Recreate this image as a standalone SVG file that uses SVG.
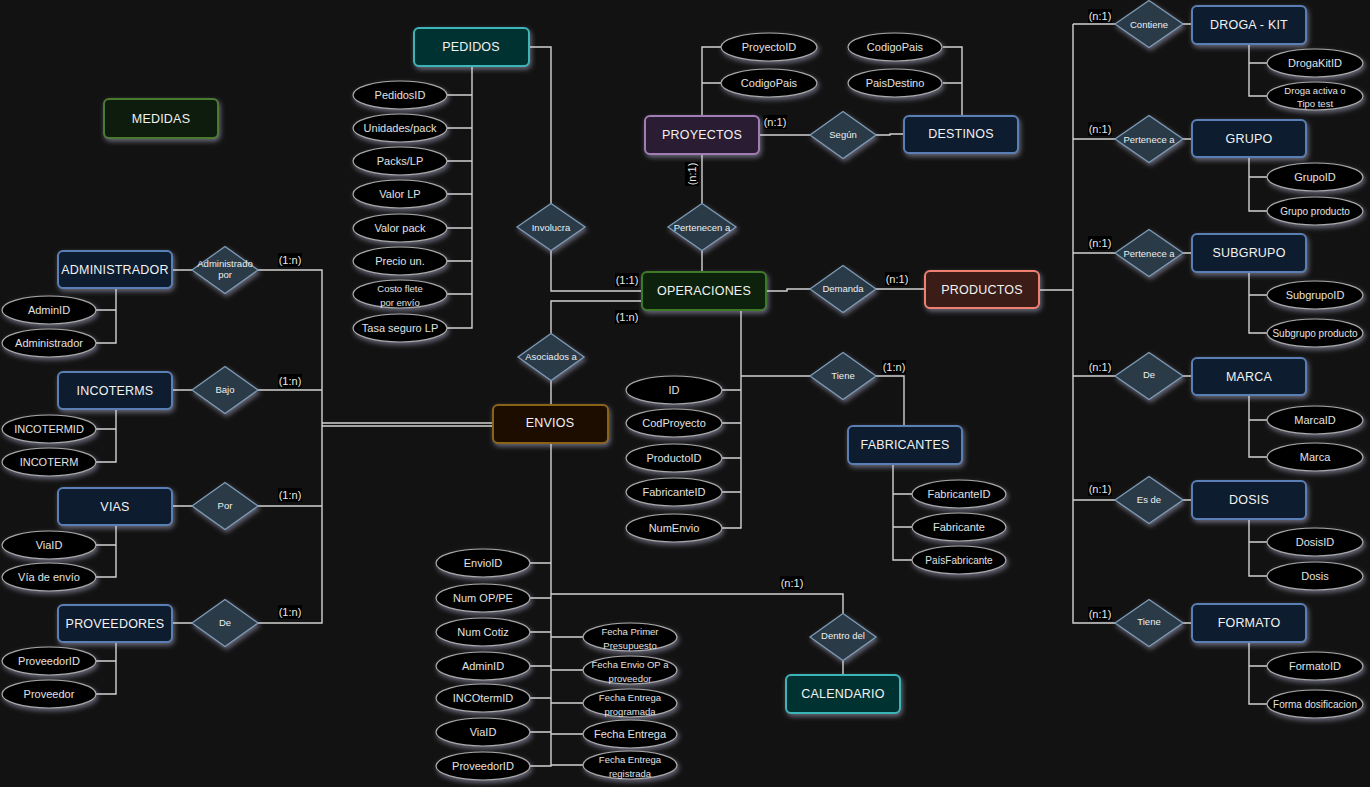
<svg xmlns="http://www.w3.org/2000/svg" width="1370" height="787" viewBox="0 0 1370 787">
<defs>
<filter id="glow" x="-30%" y="-40%" width="160%" height="190%">
<feDropShadow dx="1.5" dy="2.5" stdDeviation="2.5" flood-color="#cfcff5" flood-opacity="0.45"/>
</filter>
<style>
text{font-family:"Liberation Sans",Arial,sans-serif;text-anchor:middle;dominant-baseline:central}
.ent rect{rx:5;ry:5;stroke-width:2;filter:url(#glow)}
.ent text{font-size:12.5px;fill:#f2f2f2;letter-spacing:0.2px}
.blue rect{fill:#0b1a2e;stroke:#5a7fb5}
.green rect{fill:#0f1f0e;stroke:#4a7a2e}
.dgreen rect{fill:#0f200f;stroke:#3d7a25}
.teal rect{fill:#053032;stroke:#3ab5b8}
.purple rect{fill:#2a1a30;stroke:#a27db5}
.red rect{fill:#3a1a16;stroke:#f08070}
.brown rect{fill:#1e0f02;stroke:#8a6416}
.rel polygon{fill:#2c3a47;stroke:#7c9cb8;stroke-width:1.3;filter:url(#glow)}
.rel text{font-size:9.5px;fill:#eeeeee}
.attr ellipse{fill:#050505;stroke:#aaaaaa;stroke-width:1.2;filter:url(#glow)}
.attr text{font-size:11px;fill:#e2e2e2}
.attr text.s{font-size:9.5px}
.attr text.m{font-size:10px}
#connectors path{fill:none;stroke:#d2d2d2;stroke-width:1.4}
.card rect{fill:#000}
.card text{font-size:11px;fill:#e8e8e8}
</style>
</defs>
<rect width="1370" height="787" fill="#121212"/>

<g id="connectors">
<path d="M172,270 H192 M258,270 H322 V623 H258 M258,390 H322 M258,506 H322 M322,423 H493 M322,426 H493"/>
<path d="M172,390 H192 M172,506 H192 M172,623 H192"/>
<path d="M116,288 V343 H96 M96,310 H116 M116,409 V462 H96 M96,429 H116 M116,525 V577 H96 M96,545 H116 M116,642 V694 H96 M96,661 H116"/>
<path d="M472,66 V328 H447 M447,95 H472 M447,128 H472 M447,161 H472 M447,194 H472 M447,228 H472 M447,261 H472 M447,294 H472"/>
<path d="M529,47 H551 V203.5 M551,250.5 V291 H642 M642,301 H551 V333.5 M551,380.5 V405"/>
<path d="M702,116 V47 H721 M721,83 H702 M702,154 V203.5 M702,250.5 V272 M759,135 H810 M876,135 H890 V134 H904"/>
<path d="M943,47 H962 V116 M943,83 H962"/>
<path d="M766,291 H787 V289 H810 M876,289 H925 M741,310 V528 H722 M722,390 H741 M722,423 H741 M722,458 H741 M722,492 H741 M741,376 H810 M876,376 H904 V426"/>
<path d="M893,464 V560 H912 M912,494 H893 M912,527 H893"/>
<path d="M1039,290 H1073 M1073,24 V623 H1116 M1073,24 H1116 M1073,139 H1116 M1073,253 H1116 M1073,376 H1116 M1073,500 H1116"/>
<path d="M1182,24 H1192 M1182,139 H1192 M1182,253 H1192 M1182,376 H1192 M1182,500 H1192 M1182,623 H1192"/>
<path d="M1249,44 V96 H1267 M1249,63 H1267 M1249,157 V211 H1267 M1249,177 H1267 M1249,272 V333 H1267 M1249,295 H1267 M1249,395 V457 H1267 M1249,420 H1267 M1249,519 V576 H1267 M1249,542 H1267 M1249,642 V704 H1267 M1249,666 H1267"/>
<path d="M551,443 V766 H530 M530,563 H551 M530,598 H551 M530,632 H551 M530,666 H551 M530,698 H551 M530,732 H551 M551,637 H583 M551,670 H583 M551,703 H583 M551,734 H583 M551,765 H583"/>
<path d="M551,594 H843 V613.5 M843,660.5 V675"/>
</g>

<g id="labels">
<g class="card"><rect x="278" y="253" width="24" height="14"/><text x="290" y="260">(1:n)</text></g>
<g class="card"><rect x="278" y="374" width="24" height="14"/><text x="290" y="381">(1:n)</text></g>
<g class="card"><rect x="278" y="488" width="24" height="14"/><text x="290" y="495">(1:n)</text></g>
<g class="card"><rect x="278" y="605" width="24" height="14"/><text x="290" y="612">(1:n)</text></g>
<g class="card"><rect x="615" y="273" width="24" height="14"/><text x="627" y="280">(1:1)</text></g>
<g class="card"><rect x="615" y="310" width="24" height="14"/><text x="627" y="317">(1:n)</text></g>
<g class="card"><rect x="763" y="115" width="24" height="14"/><text x="775" y="122">(n:1)</text></g>
<g class="card" transform="translate(692,174) rotate(-90)"><rect x="-12" y="-7" width="24" height="14"/><text x="0" y="0">(n:1)</text></g>
<g class="card"><rect x="885" y="272" width="24" height="14"/><text x="897" y="279">(n:1)</text></g>
<g class="card"><rect x="882" y="360" width="24" height="14"/><text x="894" y="367">(1:n)</text></g>
<g class="card"><rect x="780" y="576" width="24" height="14"/><text x="792" y="583">(n:1)</text></g>
<g class="card"><rect x="1088" y="9" width="24" height="14"/><text x="1100" y="16">(n:1)</text></g>
<g class="card"><rect x="1088" y="122" width="24" height="14"/><text x="1100" y="129">(n:1)</text></g>
<g class="card"><rect x="1088" y="236" width="24" height="14"/><text x="1100" y="243">(n:1)</text></g>
<g class="card"><rect x="1088" y="360" width="24" height="14"/><text x="1100" y="367">(n:1)</text></g>
<g class="card"><rect x="1088" y="482" width="24" height="14"/><text x="1100" y="489">(n:1)</text></g>
<g class="card"><rect x="1088" y="607" width="24" height="14"/><text x="1100" y="614">(n:1)</text></g>
</g>

<g id="medidas" class="ent green"><rect x="104" y="99" width="114" height="39"/><text x="161" y="119">MEDIDAS</text></g>
<g id="administrador" class="ent blue"><rect x="58" y="251" width="114" height="37"/><text x="115" y="270">ADMINISTRADOR</text></g>
<g id="incoterms" class="ent blue"><rect x="58" y="372" width="114" height="37"/><text x="115" y="391">INCOTERMS</text></g>
<g id="vias" class="ent blue"><rect x="58" y="488" width="114" height="37"/><text x="115" y="507">VIAS</text></g>
<g id="proveedores" class="ent blue"><rect x="58" y="605" width="114" height="37"/><text x="115" y="624">PROVEEDORES</text></g>
<g id="pedidos" class="ent teal"><rect x="414" y="28" width="115" height="38"/><text x="471" y="47">PEDIDOS</text></g>
<g id="proyectos" class="ent purple"><rect x="645" y="116" width="114" height="38"/><text x="702" y="135">PROYECTOS</text></g>
<g id="destinos" class="ent blue"><rect x="904" y="116" width="114" height="37"/><text x="961" y="134">DESTINOS</text></g>
<g id="operaciones" class="ent dgreen"><rect x="642" y="272" width="124" height="38"/><text x="704" y="291">OPERACIONES</text></g>
<g id="productos" class="ent red"><rect x="925" y="271" width="114" height="37"/><text x="982" y="290">PRODUCTOS</text></g>
<g id="envios" class="ent brown"><rect x="493" y="405" width="115" height="38"/><text x="550" y="423">ENVIOS</text></g>
<g id="fabricantes" class="ent blue"><rect x="848" y="426" width="114" height="38"/><text x="905" y="445">FABRICANTES</text></g>
<g id="calendario" class="ent teal"><rect x="786" y="675" width="114" height="38"/><text x="843" y="694">CALENDARIO</text></g>
<g id="droga-kit" class="ent blue"><rect x="1192" y="6" width="114" height="38"/><text x="1249" y="25">DROGA - KIT</text></g>
<g id="grupo" class="ent blue"><rect x="1192" y="120" width="114" height="37"/><text x="1249" y="139">GRUPO</text></g>
<g id="subgrupo" class="ent blue"><rect x="1192" y="234" width="114" height="38"/><text x="1249" y="253">SUBGRUPO</text></g>
<g id="marca" class="ent blue"><rect x="1192" y="358" width="114" height="37"/><text x="1249" y="377">MARCA</text></g>
<g id="dosis" class="ent blue"><rect x="1192" y="481" width="114" height="38"/><text x="1249" y="500">DOSIS</text></g>
<g id="formato" class="ent blue"><rect x="1192" y="604" width="114" height="38"/><text x="1249" y="623">FORMATO</text></g>

<g id="rel-administrado" class="rel" transform="translate(225,270)"><polygon points="-33,0 0,-23.5 33,0 0,23.5"/><text y="-7">Administrado</text><text y="4">por</text></g>
<g id="rel-bajo" class="rel" transform="translate(225,390)"><polygon points="-33,0 0,-23.5 33,0 0,23.5"/><text y="-1">Bajo</text></g>
<g id="rel-por" class="rel" transform="translate(225,506)"><polygon points="-33,0 0,-23.5 33,0 0,23.5"/><text y="-1">Por</text></g>
<g id="rel-de-prov" class="rel" transform="translate(225,623)"><polygon points="-33,0 0,-23.5 33,0 0,23.5"/><text y="-1">De</text></g>
<g id="rel-involucra" class="rel" transform="translate(551,227)"><polygon points="-34,0 0,-23.5 34,0 0,23.5"/><text>Involucra</text></g>
<g id="rel-asociados" class="rel" transform="translate(551,357)"><polygon points="-33,0 0,-23.5 33,0 0,23.5"/><text y="-1">Asociados a</text></g>
<g id="rel-pertenecen" class="rel" transform="translate(702,227)"><polygon points="-34,0 0,-23.5 34,0 0,23.5"/><text>Pertenecen a</text></g>
<g id="rel-segun" class="rel" transform="translate(843,135)"><polygon points="-33,0 0,-23.5 33,0 0,23.5"/><text y="-1">Según</text></g>
<g id="rel-demanda" class="rel" transform="translate(843,289)"><polygon points="-33,0 0,-23.5 33,0 0,23.5"/><text y="-1">Demanda</text></g>
<g id="rel-tiene-fab" class="rel" transform="translate(843,376)"><polygon points="-33,0 0,-23.5 33,0 0,23.5"/><text y="-1">Tiene</text></g>
<g id="rel-dentro" class="rel" transform="translate(843,637)"><polygon points="-33,0 0,-23.5 33,0 0,23.5"/><text y="-2">Dentro del</text></g>
<g id="rel-contiene" class="rel" transform="translate(1149,24)"><polygon points="-34,0 0,-23.5 34,0 0,23.5"/><text y="0">Contiene</text></g>
<g id="rel-pertenece-grupo" class="rel" transform="translate(1149,139)"><polygon points="-34,0 0,-23.5 34,0 0,23.5"/><text>Pertenece a</text></g>
<g id="rel-pertenece-subgrupo" class="rel" transform="translate(1149,253)"><polygon points="-34,0 0,-23.5 34,0 0,23.5"/><text>Pertenece a</text></g>
<g id="rel-de-marca" class="rel" transform="translate(1149,376)"><polygon points="-34,0 0,-23.5 34,0 0,23.5"/><text y="-2">De</text></g>
<g id="rel-esde" class="rel" transform="translate(1149,500)"><polygon points="-34,0 0,-23.5 34,0 0,23.5"/><text y="-1">Es de</text></g>
<g id="rel-tiene-formato" class="rel" transform="translate(1149,623)"><polygon points="-34,0 0,-23.5 34,0 0,23.5"/><text y="-2">Tiene</text></g>

<g id="attr-adminid" class="attr"><ellipse cx="49" cy="310" rx="47" ry="14"/><text x="49" y="310">AdminID</text></g>
<g id="attr-administrador" class="attr"><ellipse cx="49" cy="343" rx="47" ry="14"/><text x="49" y="343">Administrador</text></g>
<g id="attr-incotermid" class="attr"><ellipse cx="49" cy="429" rx="47" ry="14"/><text x="49" y="429">INCOTERMID</text></g>
<g id="attr-incoterm" class="attr"><ellipse cx="49" cy="462" rx="47" ry="14"/><text x="49" y="462">INCOTERM</text></g>
<g id="attr-viaid" class="attr"><ellipse cx="49" cy="545" rx="47" ry="14"/><text x="49" y="545">ViaID</text></g>
<g id="attr-viaenvio" class="attr"><ellipse cx="49" cy="577" rx="47" ry="14"/><text x="49" y="577">Vía de envío</text></g>
<g id="attr-proveedorid" class="attr"><ellipse cx="49" cy="661" rx="47" ry="14"/><text x="49" y="661">ProveedorID</text></g>
<g id="attr-proveedor" class="attr"><ellipse cx="49" cy="694" rx="47" ry="14"/><text x="49" y="694">Proveedor</text></g>

<g id="attr-pedidosid" class="attr"><ellipse cx="400" cy="95" rx="47" ry="14"/><text x="400" y="95">PedidosID</text></g>
<g id="attr-unidades" class="attr"><ellipse cx="400" cy="128" rx="47" ry="14"/><text x="400" y="128">Unidades/pack</text></g>
<g id="attr-packs" class="attr"><ellipse cx="400" cy="161" rx="47" ry="14"/><text x="400" y="161">Packs/LP</text></g>
<g id="attr-valorlp" class="attr"><ellipse cx="400" cy="194" rx="47" ry="14"/><text x="400" y="194">Valor LP</text></g>
<g id="attr-valorpack" class="attr"><ellipse cx="400" cy="228" rx="47" ry="14"/><text x="400" y="228">Valor pack</text></g>
<g id="attr-precio" class="attr"><ellipse cx="400" cy="261" rx="47" ry="14"/><text x="400" y="261">Precio un.</text></g>
<g id="attr-costo" class="attr"><ellipse cx="400" cy="294" rx="47" ry="14"/><text class="s" x="400" y="288">Costo flete</text><text class="s" x="400" y="302">por envío</text></g>
<g id="attr-tasa" class="attr"><ellipse cx="400" cy="328" rx="47" ry="14"/><text x="400" y="328">Tasa seguro LP</text></g>

<g id="attr-proyectoid" class="attr"><ellipse cx="769" cy="47" rx="48" ry="14"/><text x="769" y="47">ProyectoID</text></g>
<g id="attr-codigopais-p" class="attr"><ellipse cx="769" cy="83" rx="48" ry="14"/><text x="769" y="83">CodigoPais</text></g>
<g id="attr-codigopais-d" class="attr"><ellipse cx="895" cy="47" rx="47" ry="14"/><text x="895" y="47">CodigoPais</text></g>
<g id="attr-paisdestino" class="attr"><ellipse cx="895" cy="83" rx="47" ry="14"/><text x="895" y="83">PaisDestino</text></g>

<g id="attr-id" class="attr"><ellipse cx="674" cy="390" rx="48" ry="14"/><text x="674" y="390">ID</text></g>
<g id="attr-codproyecto" class="attr"><ellipse cx="674" cy="423" rx="48" ry="14"/><text x="674" y="423">CodProyecto</text></g>
<g id="attr-productoid" class="attr"><ellipse cx="674" cy="458" rx="48" ry="14"/><text x="674" y="458">ProductoID</text></g>
<g id="attr-fabricanteid-op" class="attr"><ellipse cx="674" cy="492" rx="48" ry="14"/><text x="674" y="492">FabricanteID</text></g>
<g id="attr-numenvio" class="attr"><ellipse cx="674" cy="528" rx="48" ry="14"/><text x="674" y="528">NumEnvio</text></g>

<g id="attr-fabricanteid" class="attr"><ellipse cx="959" cy="494" rx="47" ry="14"/><text x="959" y="494">FabricanteID</text></g>
<g id="attr-fabricante" class="attr"><ellipse cx="959" cy="527" rx="47" ry="14"/><text x="959" y="527">Fabricante</text></g>
<g id="attr-paisfabricante" class="attr"><ellipse cx="959" cy="560" rx="47" ry="14"/><text class="m" x="959" y="560">PaísFabricante</text></g>

<g id="attr-drogakitid" class="attr"><ellipse cx="1315" cy="63" rx="48" ry="14"/><text x="1315" y="63">DrogaKitID</text></g>
<g id="attr-drogaactiva" class="attr"><ellipse cx="1315" cy="96" rx="48" ry="14"/><text class="s" x="1315" y="90">Droga activa o</text><text class="s" x="1315" y="103">Tipo test</text></g>
<g id="attr-grupoid" class="attr"><ellipse cx="1315" cy="177" rx="48" ry="14"/><text x="1315" y="177">GrupoID</text></g>
<g id="attr-grupoproducto" class="attr"><ellipse cx="1315" cy="211" rx="48" ry="14"/><text class="m" x="1315" y="211">Grupo producto</text></g>
<g id="attr-subgrupoid" class="attr"><ellipse cx="1315" cy="295" rx="48" ry="14"/><text x="1315" y="295">SubgrupoID</text></g>
<g id="attr-subgrupoproducto" class="attr"><ellipse cx="1315" cy="333" rx="48" ry="14"/><text class="m" x="1315" y="333">Subgrupo producto</text></g>
<g id="attr-marcaid" class="attr"><ellipse cx="1315" cy="420" rx="48" ry="14"/><text x="1315" y="420">MarcaID</text></g>
<g id="attr-marca" class="attr"><ellipse cx="1315" cy="457" rx="48" ry="14"/><text x="1315" y="457">Marca</text></g>
<g id="attr-dosisid" class="attr"><ellipse cx="1315" cy="542" rx="48" ry="14"/><text x="1315" y="542">DosisID</text></g>
<g id="attr-dosis" class="attr"><ellipse cx="1315" cy="576" rx="48" ry="14"/><text x="1315" y="576">Dosis</text></g>
<g id="attr-formatoid" class="attr"><ellipse cx="1315" cy="666" rx="48" ry="14"/><text x="1315" y="666">FormatoID</text></g>
<g id="attr-formadosif" class="attr"><ellipse cx="1315" cy="704" rx="48" ry="14"/><text class="m" x="1315" y="704">Forma dosificacion</text></g>

<g id="attr-envioid" class="attr"><ellipse cx="483" cy="563" rx="47" ry="14"/><text x="483" y="563">EnvioID</text></g>
<g id="attr-numop" class="attr"><ellipse cx="483" cy="598" rx="47" ry="14"/><text x="483" y="598">Num OP/PE</text></g>
<g id="attr-numcotiz" class="attr"><ellipse cx="483" cy="632" rx="47" ry="14"/><text x="483" y="632">Num Cotiz</text></g>
<g id="attr-adminid-e" class="attr"><ellipse cx="483" cy="666" rx="47" ry="14"/><text x="483" y="666">AdminID</text></g>
<g id="attr-incotermid-e" class="attr"><ellipse cx="483" cy="698" rx="47" ry="14"/><text x="483" y="698">INCOtermID</text></g>
<g id="attr-viaid-e" class="attr"><ellipse cx="483" cy="732" rx="47" ry="14"/><text x="483" y="732">ViaID</text></g>
<g id="attr-proveedorid-e" class="attr"><ellipse cx="483" cy="766" rx="47" ry="14"/><text x="483" y="766">ProveedorID</text></g>
<g id="attr-fprimer" class="attr"><ellipse cx="630" cy="637" rx="47" ry="14"/><text class="s" x="630" y="631">Fecha Primer</text><text class="s" x="630" y="645">Presupuesto</text></g>
<g id="attr-fenvioop" class="attr"><ellipse cx="630" cy="670" rx="47" ry="14"/><text class="s" x="630" y="664">Fecha Envio OP a</text><text class="s" x="630" y="678">proveedor</text></g>
<g id="attr-fprog" class="attr"><ellipse cx="630" cy="703" rx="47" ry="14"/><text class="s" x="630" y="697">Fecha Entrega</text><text class="s" x="630" y="711">programada</text></g>
<g id="attr-fentrega" class="attr"><ellipse cx="630" cy="734" rx="47" ry="14"/><text x="630" y="734">Fecha Entrega</text></g>
<g id="attr-freg" class="attr"><ellipse cx="630" cy="765" rx="47" ry="14"/><text class="s" x="630" y="759">Fecha Entrega</text><text class="s" x="630" y="773">registrada</text></g>
</svg>
